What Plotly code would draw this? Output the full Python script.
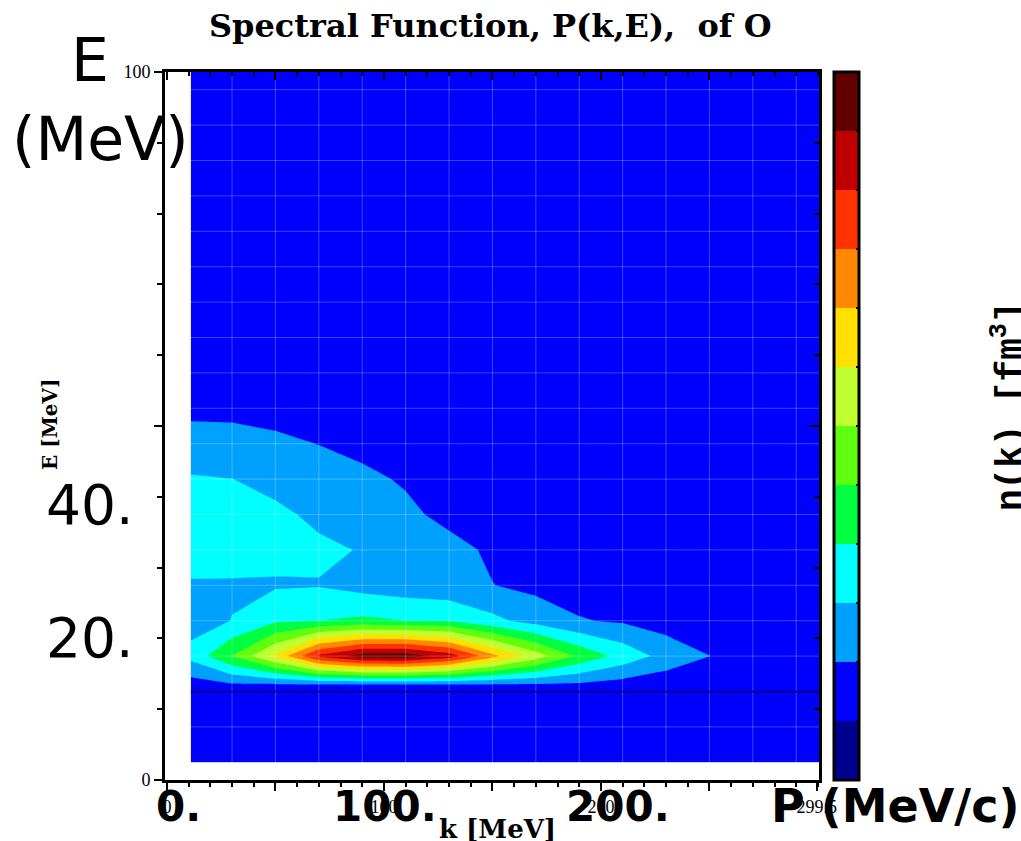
import plotly.graph_objects as go

k_vals = [11, 30, 50, 70, 90, 110, 130, 150, 170, 190, 210, 230, 250, 270, 290, 300.5]
E_vals = [2.5, 7.5, 12.5, 13.5, 17.5, 22.5, 27.5, 32.5, 37.5, 42.5, 47.5, 52.5, 57.5, 62.5, 67.5, 72.5, 77.5, 82.5, 87.5, 92.5, 97.5, 100]
grid_k = [30, 50, 70, 90, 110, 130, 150, 170, 190, 210, 230, 250, 270, 290]
grid_E = [7.5, 12.5, 17.5, 22.5, 27.5, 32.5, 37.5, 42.5, 47.5, 52.5, 57.5, 62.5, 67.5, 72.5, 77.5, 82.5, 87.5, 92.5, 97.5]
dip_E = [12.5, 12.5]

z_02 = [1.5, 1.5, 1.5, 1.5, 1.5, 1.5, 1.5, 1.5, 1.5, 1.5, 1.5, 1.5, 1.5, 1.5, 1.5, 1.5]
z_07 = [1.5, 1.5, 1.5, 1.5, 1.5, 1.5, 1.5, 1.5, 1.5, 1.5, 1.5, 1.5, 1.5, 1.5, 1.5, 1.5]
z_12 = [0.98, 0.98, 0.98, 0.98, 0.98, 0.98, 0.98, 0.98, 0.98, 0.98, 0.98, 0.98, 0.98, 0.98, 0.98, 0.98]
z_13 = [1.55, 1.9, 1.95, 2.0, 2.0, 2.0, 2.0, 2.0, 1.95, 1.85, 1.6, 1.4, 1.3, 1.25, 1.2, 1.2]
z_17 = [3.3, 5.05, 7.2, 10.2, 11.5, 11.6, 10.6, 8.3, 6.5, 4.8, 3.65, 2.65, 2.01, 1.6, 1.3, 1.2]
z_22 = [2.62, 3.02, 3.85, 4.0, 4.2, 4.0, 3.95, 3.25, 2.6, 2.06, 1.88, 1.55, 1.5, 1.4, 1.3, 1.3]
z_27 = [2.9, 2.9, 2.9, 2.95, 2.65, 2.45, 2.3, 2.02, 1.75, 1.6, 1.5, 1.4, 1.35, 1.3, 1.3, 1.3]
z_32 = [3.45, 3.4, 3.3, 3.18, 2.95, 2.6, 2.3, 1.85, 1.5, 1.45, 1.4, 1.35, 1.3, 1.3, 1.3, 1.3]
z_37 = [3.5, 3.45, 3.2, 2.8, 2.6, 2.2, 1.75, 1.5, 1.45, 1.4, 1.35, 1.3, 1.3, 1.3, 1.3, 1.3]
z_42 = [3.1, 3.01, 2.7, 2.5, 2.2, 1.9, 1.55, 1.4, 1.4, 1.35, 1.3, 1.3, 1.3, 1.3, 1.3, 1.3]
z_47 = [2.35, 2.3, 2.2, 1.98, 1.75, 1.6, 1.45, 1.4, 1.35, 1.3, 1.3, 1.3, 1.3, 1.3, 1.3, 1.3]
z_52 = [1.8, 1.8, 1.65, 1.6, 1.5, 1.45, 1.4, 1.35, 1.3, 1.3, 1.3, 1.3, 1.3, 1.3, 1.3, 1.3]
z_high = [1.4, 1.4, 1.4, 1.4, 1.35, 1.35, 1.3, 1.3, 1.3, 1.3, 1.3, 1.3, 1.3, 1.3, 1.3, 1.3]

z_rows = [z_02, z_07, z_12, z_13, z_17, z_22, z_27, z_32, z_37, z_42, z_47, z_52,
          z_high, z_high, z_high, z_high, z_high, z_high, z_high, z_high, z_high, z_high]

band_colors = ["#00008f", "#0000ff", "#00a0ff", "#00ffff", "#00ff40", "#60ff10",
               "#bfff2f", "#ffe000", "#ff8800", "#ff3300", "#bf0000", "#600000"]

title_text = "<b>Spectral Function, P(k,E),  of O</b>"
x_ticks = [0, 50, 100, 150, 200, 250, 299.5]
x_ticktext = ["0", "", "100", "", "200", "", "299.5"]
y_ticks = [0, 50, 100]
y_ticktext = ["0", "", "100"]

L, R, T, B = 165, 819, 72, 780
W, H = 1021, 841


def px(x):
    return (x - L) / (R - L)


def py(y):
    return (B - y) / (B - T)


n = len(band_colors)
cs = []
for i, c in enumerate(band_colors):
    cs.append([i / n, c])
    cs.append([(i + 1) / n, c])

fig = go.Figure()
fig.add_trace(go.Contour(
    x=k_vals, y=E_vals, z=z_rows,
    zmin=0, zmax=12, colorscale=cs, autocontour=False,
    contours=dict(start=0, end=12, size=1, coloring="fill", showlines=False),
    line=dict(width=0, smoothing=0), hoverinfo="skip",
    colorbar=dict(
        x=px(834), xanchor="left", xpad=0, y=0, yanchor="bottom", ypad=0,
        len=1, lenmode="fraction", thickness=25, thicknessmode="pixels",
        outlinecolor="black", outlinewidth=3,
        ticks="inside", ticklen=4, tickwidth=2, tickcolor="black",
        tickmode="array", tickvals=list(range(1, 12)), showticklabels=False,
    ),
))

gx, gy = [], []
for kv in grid_k:
    gx += [kv, kv, None]
    gy += [E_vals[0], E_vals[-1], None]
for ev in grid_E:
    gx += [k_vals[0], k_vals[-1], None]
    gy += [ev, ev, None]
fig.add_trace(go.Scatter(x=gx, y=gy, mode="lines", hoverinfo="skip", showlegend=False,
                         line=dict(color="rgba(255,255,255,0.25)", width=1)))
fig.add_trace(go.Scatter(x=[k_vals[0], k_vals[-1]], y=dip_E, mode="lines", hoverinfo="skip", showlegend=False,
                         line=dict(color="#00008f", width=1.5)))
fig.add_trace(go.Scatter(x=[0], y=[0], xaxis="x2", yaxis="y2", mode="markers",
                         marker=dict(opacity=0), hoverinfo="skip", showlegend=False))

fig.update_layout(
    width=W, height=H, autosize=False,
    margin=dict(l=L, r=W - R, t=T, b=H - B, pad=0),
    plot_bgcolor="white", paper_bgcolor="white", showlegend=False,
    xaxis=dict(
        range=[-0.9, 300.5], showgrid=False, zeroline=False, showline=True, linecolor="black", linewidth=3,
        tickmode="array", tickvals=x_ticks, ticktext=x_ticktext, ticks="outside", ticklen=8, tickwidth=2,
        tickcolor="black", tickfont=dict(family="Liberation Serif", size=18, color="black"),
        minor=dict(dtick=10, ticks="outside", ticklen=4, tickwidth=2, tickcolor="black", showgrid=False),
    ),
    yaxis=dict(
        range=[0, 100], showgrid=False, zeroline=False, showline=True, linecolor="black", linewidth=3,
        tickmode="array", tickvals=y_ticks, ticktext=y_ticktext, ticks="outside", ticklen=8, tickwidth=2,
        tickcolor="black", tickfont=dict(family="Liberation Serif", size=18, color="black"),
        minor=dict(dtick=10, ticks="outside", ticklen=5, tickwidth=2, tickcolor="black", showgrid=False),
    ),
    xaxis2=dict(
        range=[-0.9, 300.5], overlaying="x", side="top", showgrid=False, zeroline=False, showline=True,
        linecolor="black", linewidth=3, ticks="inside", tickvals=x_ticks[:-1], ticklen=8, tickwidth=2,
        tickcolor="black", showticklabels=False,
        minor=dict(dtick=10, ticks="inside", ticklen=4, tickwidth=2, tickcolor="black", showgrid=False),
    ),
    yaxis2=dict(
        range=[0, 100], overlaying="y", side="right", showgrid=False, zeroline=False, showline=True,
        linecolor="black", linewidth=3, ticks="inside", tickvals=y_ticks, ticklen=10, tickwidth=2,
        tickcolor="black", showticklabels=False,
        minor=dict(dtick=10, ticks="inside", ticklen=5, tickwidth=2, tickcolor="black", showgrid=False),
    ),
)


def label(text, x, y, size, family="DejaVu Sans", angle=0):
    fig.add_annotation(text=text, x=px(x), y=py(y), xref="paper", yref="paper",
                       xanchor="center", yanchor="middle", showarrow=False, textangle=angle,
                       font=dict(family=family, size=size, color="black"))


label(title_text, 490, 26, 32, "DejaVu Serif")
label("E", 90, 60, 60)
label("(MeV)", 100, 139, 60)
label("40.", 89, 505, 55)
label("20.", 89, 638, 55)
label("<b>0.</b>", 178, 806, 42)
label("<b>100.</b>", 385, 806, 42)
label("<b>200.</b>", 618, 806, 42)
label("<b>P (MeV/c)</b>", 895, 806, 46)
label("<b>k [MeV]</b>", 498, 829, 26, "DejaVu Serif")
label("<b>E [MeV]</b>", 50, 424, 20, "DejaVu Serif", angle=-90)
label("<b>n(k) [fm<sup>3</sup>]</b>", 1008, 406, 36, "Liberation Mono", angle=-90)

fig.write_html("out.html", config=dict(displayModeBar=False),
               post_script="document.body.style.margin='0';document.documentElement.style.overflow='hidden';document.body.style.overflow='hidden';")
